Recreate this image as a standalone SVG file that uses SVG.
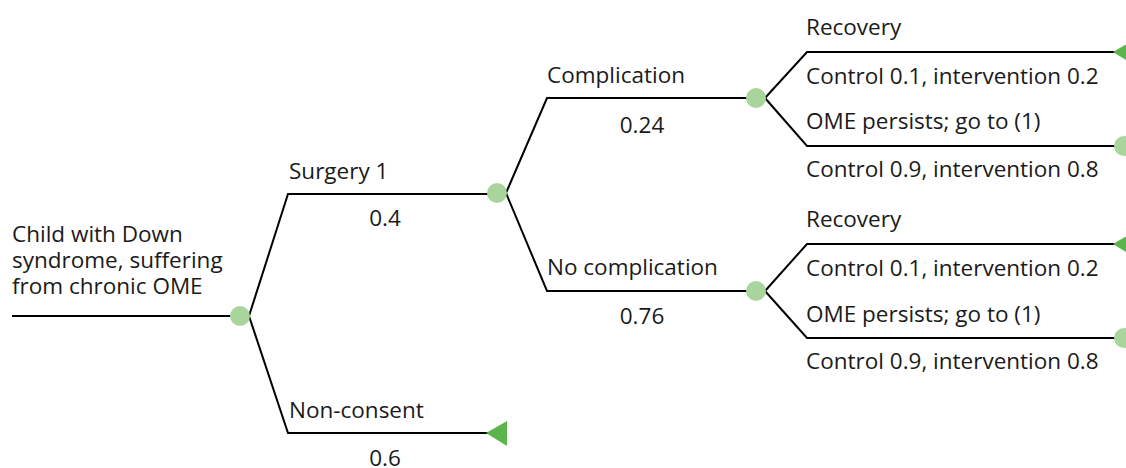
<svg xmlns="http://www.w3.org/2000/svg" width="1126" height="468" viewBox="0 0 1126 468">
  <style>
    .edge { fill: none; stroke: #000; stroke-width: 2; stroke-linejoin: miter; }
    .chance { fill: #a9d59d; }
    .end { fill: #5ab54a; }
    text { font-family: "Open Sans", "Noto Sans", "DejaVu Sans", sans-serif; font-size: 22.5px; fill: #1a1a1a; }
    .mid { text-anchor: middle; }
  </style>
  <rect width="1126" height="468" fill="#fff"/>

  <!-- branches -->
  <g id="connectors">
    <path class="edge" d="M12 316 H240"/>
    <path class="edge" d="M249 316 L288 194 H497"/>
    <path class="edge" d="M249 316 L288 433 H497"/>
    <path class="edge" d="M506 193 L547 98 H756"/>
    <path class="edge" d="M506 193 L547 291 H756"/>
    <path class="edge" d="M765 98 L807 52 H1120"/>
    <path class="edge" d="M765 98 L807 146 H1120"/>
    <path class="edge" d="M765 291 L807 244 H1120"/>
    <path class="edge" d="M765 291 L807 338 H1120"/>
  </g>

  <g id="root">
    <text x="12" y="242">Child with Down</text>
    <text x="12" y="268">syndrome, suffering</text>
    <text x="12" y="294">from chronic OME</text>
    <circle class="chance" cx="240" cy="316" r="10"/>
  </g>

  <g id="surgery">
    <text x="289" y="179">Surgery 1</text>
    <text class="mid" x="385" y="226">0.4</text>
    <circle class="chance" cx="497" cy="193" r="10"/>
  </g>

  <g id="non-consent">
    <text x="289" y="418">Non-consent</text>
    <text class="mid" x="385" y="466">0.6</text>
    <polygon class="end" points="486,433 507,421 507,446"/>
  </g>

  <g id="complication">
    <text x="547" y="83">Complication</text>
    <text class="mid" x="642" y="133">0.24</text>
    <circle class="chance" cx="756" cy="98" r="10"/>
  </g>

  <g id="no-complication">
    <text x="547" y="275">No complication</text>
    <text class="mid" x="642" y="324">0.76</text>
    <circle class="chance" cx="756" cy="291" r="10"/>
  </g>

  <g id="complication-recovery">
    <text x="806" y="35">Recovery</text>
    <text x="806" y="84">Control 0.1, intervention 0.2</text>
    <polygon class="end" points="1113,52 1134,40 1134,65"/>
  </g>

  <g id="complication-persists">
    <text x="806" y="129">OME persists; go to (1)</text>
    <text x="806" y="177">Control 0.9, intervention 0.8</text>
    <circle class="chance" cx="1124" cy="146" r="10"/>
  </g>

  <g id="no-complication-recovery">
    <text x="806" y="227">Recovery</text>
    <text x="806" y="276">Control 0.1, intervention 0.2</text>
    <polygon class="end" points="1113,244 1134,232 1134,257"/>
  </g>

  <g id="no-complication-persists">
    <text x="806" y="322">OME persists; go to (1)</text>
    <text x="806" y="369">Control 0.9, intervention 0.8</text>
    <circle class="chance" cx="1124" cy="338" r="10"/>
  </g>
</svg>
